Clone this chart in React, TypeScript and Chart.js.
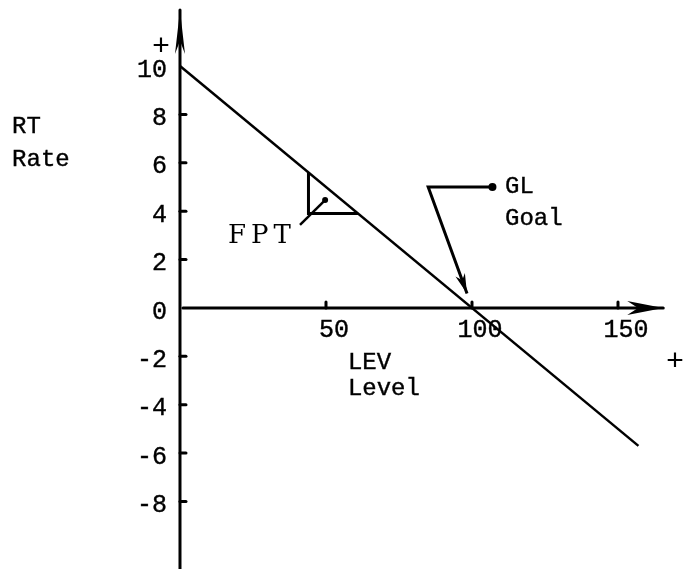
import React, { useEffect, useRef } from "react";
import { Chart, registerables } from "chart.js";

Chart.register(...registerables);

// ---- data ----
const xTickValues = [50, 100, 150];
const yTickValues = [-8, -6, -4, -2, 0, 2, 4, 6, 8, 10];
const rateLine = [
  { x: 0, y: 10 },
  { x: 157, y: -5.7 },
];
const fptTriangle = [
  { x: 44, y: 5.6 },
  { x: 44, y: 3.9 },
  { x: 61, y: 3.9 },
];
const fptPointer = [
  { x: 41.1, y: 3.43 },
  { x: 49.7, y: 4.46 },
];
const goalPointer = [
  { x: 107, y: 5 },
  { x: 85, y: 5 },
  { x: 98.3, y: 0.6 },
];
const annotationTexts = ["RT", "Rate", "LEV", "Level", "GL", "Goal", "FPT", "+", "+"];

// ---- layout (data coordinates) ----
const X_MIN = -61.64;
const X_MAX = 177.4;
const Y_MIN = -10.79;
const Y_MAX = 12.73;
const Y_AXIS_TOP = 12.32;
const Y_LABEL_X = -4.45;
const X_AXIS_START = 1.0;
const X_AXIS_END = 165.5;
const annotationAnchors = [
  { x: -57.5, y: 7.23 },
  { x: -57.5, y: 5.87 },
  { x: 57.5, y: -2.52 },
  { x: 57.5, y: -3.6 },
  { x: 111.3, y: 4.75 },
  { x: 111.3, y: 3.43 },
  { x: 16.4, y: 2.69 },
  { x: -6.5, y: 10.79 },
  { x: 169.5, y: -2.23 },
];

const INK = "#000000";
const MONO = '"Liberation Mono", "DejaVu Sans Mono", monospace';

function arrowhead(ctx: CanvasRenderingContext2D, fx: number, fy: number, tx: number, ty: number, len: number, half: number) {
  const dx = tx - fx;
  const dy = ty - fy;
  const d = Math.hypot(dx, dy) || 1;
  const ux = dx / d;
  const uy = dy / d;
  const nx = -uy;
  const ny = ux;
  const bx = tx - ux * len;
  const by = ty - uy * len;
  const mx = tx - ux * len * 0.7;
  const my = ty - uy * len * 0.7;
  ctx.beginPath();
  ctx.moveTo(tx, ty);
  ctx.lineTo(bx + nx * half, by + ny * half);
  ctx.lineTo(mx, my);
  ctx.lineTo(bx - nx * half, by - ny * half);
  ctx.closePath();
  ctx.fill();
}

const sketchPlugin = {
  id: "sketch",
  afterDatasetsDraw(chart: any) {
    const { ctx } = chart;
    const xs = chart.scales.x;
    const ys = chart.scales.y;
    const px = (v: number) => xs.getPixelForValue(v);
    const py = (v: number) => ys.getPixelForValue(v);
    ctx.save();
    ctx.strokeStyle = INK;
    ctx.fillStyle = INK;
    ctx.lineCap = "round";

    // y axis
    ctx.lineWidth = 3;
    ctx.beginPath();
    ctx.moveTo(px(0), py(Y_MIN));
    ctx.lineTo(px(0), py(Y_AXIS_TOP));
    ctx.stroke();
    arrowhead(ctx, px(0), py(0), px(0), py(Y_AXIS_TOP), 44, 5);

    // x axis
    ctx.beginPath();
    ctx.moveTo(px(X_AXIS_START), py(0));
    ctx.lineTo(px(X_AXIS_END), py(0));
    ctx.stroke();
    arrowhead(ctx, px(0), py(0), px(X_AXIS_END), py(0), 36, 7);

    // tick marks (inward)
    ctx.lineWidth = 3;
    ys.ticks.forEach((t: any) => {
      if (t.value === 0 || t.value === rateLine[0].y) return;
      ctx.beginPath();
      ctx.moveTo(px(0), py(t.value));
      ctx.lineTo(px(0) + 6, py(t.value));
      ctx.stroke();
    });
    xs.ticks.forEach((t: any) => {
      ctx.beginPath();
      ctx.moveTo(px(t.value), py(0));
      ctx.lineTo(px(t.value), py(0) - 6);
      ctx.stroke();
    });

    // goal pointer arrowhead + dot
    const gp = goalPointer;
    const g1 = gp[gp.length - 2];
    const g2 = gp[gp.length - 1];
    arrowhead(ctx, px(g1.x), py(g1.y), px(g2.x), py(g2.y), 20, 5);
    ctx.beginPath();
    ctx.arc(px(gp[0].x), py(gp[0].y), 4, 0, Math.PI * 2);
    ctx.fill();

    // fpt pointer dot
    const fp = fptPointer[fptPointer.length - 1];
    ctx.beginPath();
    ctx.arc(px(fp.x), py(fp.y), 3, 0, Math.PI * 2);
    ctx.fill();

    // texts
    ctx.lineWidth = 0.4;
    annotationTexts.forEach((txt, i) => {
      const a = annotationAnchors[i];
      let stroke = true;
      if (txt === "FPT") {
        ctx.font = '26px "DejaVu Serif", "Liberation Serif", serif';
        (ctx as any).letterSpacing = "5px";
        stroke = false;
      } else if (txt === "+") {
        ctx.font = `30px ${MONO}`;
        (ctx as any).letterSpacing = "0px";
        stroke = false;
      } else {
        ctx.font = `24px ${MONO}`;
        (ctx as any).letterSpacing = "0px";
      }
      if (txt === "+") {
        ctx.textAlign = "center";
        ctx.textBaseline = "middle";
      } else {
        ctx.textAlign = "left";
        ctx.textBaseline = "alphabetic";
      }
      ctx.fillText(txt, px(a.x), py(a.y));
      if (stroke) ctx.strokeText(txt, px(a.x), py(a.y));
    });
    (ctx as any).letterSpacing = "0px";
    ctx.restore();
  },
};

export default function App() {
  const ref = useRef<HTMLCanvasElement | null>(null);
  useEffect(() => {
    if (!ref.current) return;
    const lineDs = (data: { x: number; y: number }[], width: number) => ({
      data,
      showLine: true,
      borderColor: INK,
      borderWidth: width,
      pointRadius: 0,
      tension: 0,
      fill: false,
    });
    const zeroPad = (s: any) => {
      s.paddingTop = 0;
      s.paddingBottom = 0;
      s.paddingLeft = 0;
      s.paddingRight = 0;
    };
    const chart = new Chart(ref.current, {
      type: "scatter",
      data: {
        datasets: [
          lineDs(rateLine, 2.5),
          lineDs(fptTriangle, 3),
          lineDs(fptPointer, 2.5),
          lineDs(goalPointer, 3),
        ],
      },
      options: {
        animation: false,
        responsive: false,
        maintainAspectRatio: false,
        layout: { padding: 0, autoPadding: false },
        plugins: { legend: { display: false }, tooltip: { enabled: false } },
        scales: {
          x: {
            type: "linear",
            min: X_MIN,
            max: X_MAX,
            position: { y: 0 } as any,
            grid: { display: false, drawTicks: false },
            border: { display: false },
            afterBuildTicks: (s: any) => {
              s.ticks = xTickValues.map((v) => ({ value: v }));
            },
            afterFit: zeroPad,
            ticks: {
              color: INK,
              font: { family: MONO, size: 25 },
              padding: 7,
              labelOffset: 8,
              autoSkip: false,
              maxRotation: 0,
              textStrokeColor: INK,
              textStrokeWidth: 0.4,
            },
          },
          y: {
            type: "linear",
            min: Y_MIN,
            max: Y_MAX,
            position: { x: Y_LABEL_X } as any,
            grid: { display: false, drawTicks: false },
            border: { display: false },
            afterBuildTicks: (s: any) => {
              s.ticks = yTickValues.map((v) => ({ value: v }));
            },
            afterFit: zeroPad,
            ticks: {
              color: INK,
              font: { family: MONO, size: 25 },
              padding: 0,
              labelOffset: 4,
              autoSkip: false,
              textStrokeColor: INK,
              textStrokeWidth: 0.4,
            },
          },
        },
      },
      plugins: [sketchPlugin],
    });
    return () => chart.destroy();
  }, []);
  return (
    <div style={{ position: "fixed", left: 0, top: 0, width: 698, height: 569, background: "#fff" }}>
      <canvas ref={ref} width={698} height={569} style={{ display: "block" }} />
    </div>
  );
}
